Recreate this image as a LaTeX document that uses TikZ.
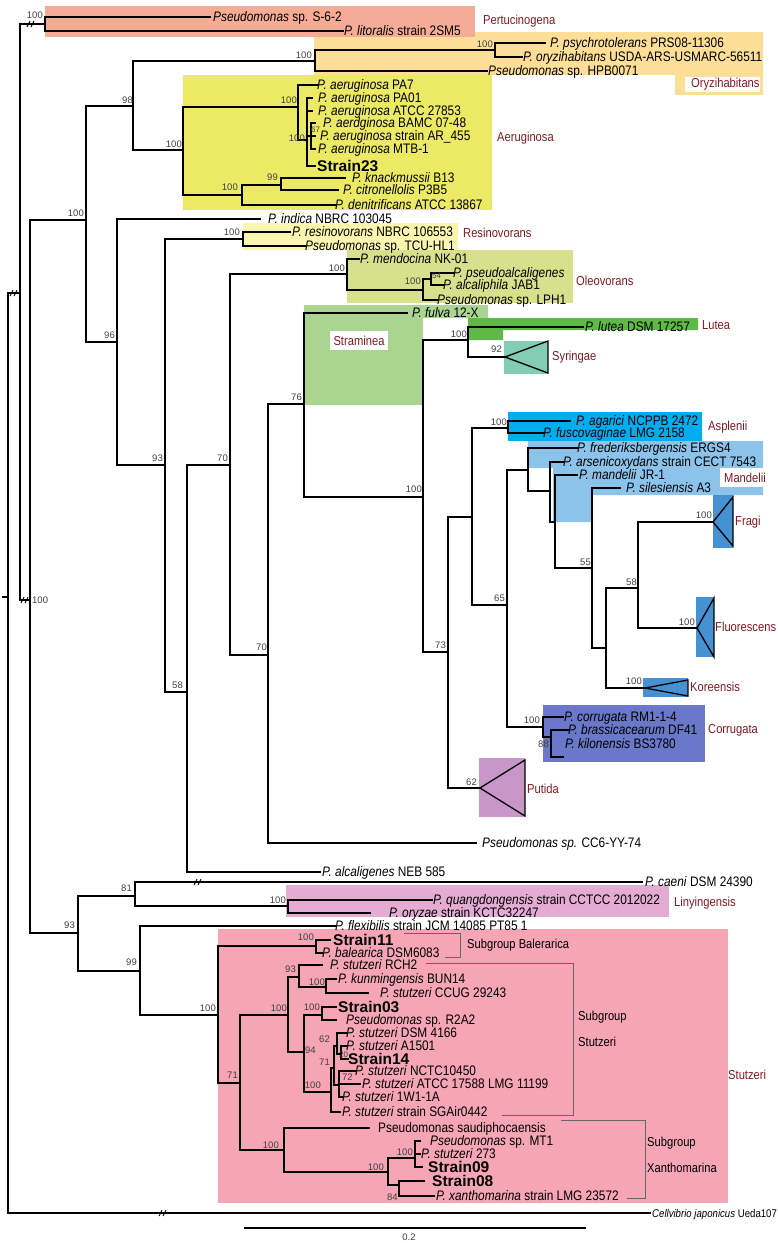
\documentclass[tikz,border=0pt]{standalone}
\usepackage{fontspec}
\newfontfamily\spfont{Liberation Sans}[FakeStretch=0.86]
\newfontfamily\bsfont{Liberation Sans}
\newfontfamily\stfont{Liberation Sans}
\definecolor{cpert}{RGB}{245,172,150}
\definecolor{cory}{RGB}{252,222,150}
\definecolor{caer}{RGB}{236,234,100}
\definecolor{cres}{RGB}{250,245,175}
\definecolor{cole}{RGB}{215,225,140}
\definecolor{cstra}{RGB}{170,213,145}
\definecolor{clut}{RGB}{95,185,70}
\definecolor{csyr}{RGB}{130,205,180}
\definecolor{casp}{RGB}{0,174,239}
\definecolor{cman}{RGB}{140,195,235}
\definecolor{cblue}{RGB}{70,145,210}
\definecolor{ccor}{RGB}{105,120,200}
\definecolor{cput}{RGB}{200,150,200}
\definecolor{clin}{RGB}{228,172,210}
\definecolor{cstz}{RGB}{245,165,180}
\definecolor{cred}{RGB}{130,25,35}
\tikzset{
  br/.style={line width=1.1pt, black, line cap=rect},
  tri/.style={line width=1.3pt, black, line join=miter},
  leaf/.style={anchor=base west, inner sep=0pt, font=\spfont\fontsize{13.8}{16}\selectfont},
  strain/.style={anchor=base west, inner sep=0pt, font=\stfont\bfseries\fontsize{15.5}{19}\selectfont},
  bs/.style={inner sep=0pt, font=\bsfont\fontsize{9.5}{10}\selectfont, text=black!75},
  grp/.style={anchor=west, inner sep=0pt, font=\spfont\fontsize{13}{15}\selectfont, text=cred},
  sublab/.style={anchor=west, inner sep=0pt, font=\spfont\fontsize{13}{15}\selectfont},
  brk/.style={line width=0.6pt, black!60},
}
\newcommand{\mylf}[5]{\coordinate (#1) at (#2,#3);\node[leaf] (#1t) at (#4,{#3+4}) {#5};}
\newcommand{\mystl}[5]{\coordinate (#1) at (#2,#3);\node[strain] (#1t) at (#4,{#3+5}) {#5};}
\newcommand{\mybs}[4]{\node[bs,anchor=east] (#1) at (#2,#3) {#4};}
\newcommand{\mybw}[4]{\node[bs,anchor=west] (#1) at (#2,#3) {#4};}
\newcommand{\mybrk}[2]{\draw[line width=0.9pt] ({#1-4},{#2+3})--({#1-1},{#2-3}) ({#1},{#2+3})--({#1+3},{#2-3});}
\newcommand{\myk}[2]{\foreach \cc in {#2} {\draw[br] (#1) |- (\cc);}}
\begin{document}
\begin{tikzpicture}[x=1pt,y=-1pt]
\useasboundingbox (0,0) rectangle (777,1243);
% ---------- clade boxes ----------
\fill[cory] (314,32) rectangle (763,75);
\fill[cory] (675,75) rectangle (763,95);
\fill[white] (685,77) rectangle (760,92);
\fill[cpert] (45,6) rectangle (475,37);
\fill[caer] (183,75) rectangle (492,210);
\fill[cres] (243,223) rectangle (458,250);
\fill[cole] (347,250) rectangle (573,303);
\fill[cstra] (304,305) -- (488,305) -- (488,318) -- (423,318) -- (423,405) -- (304,405) -- cycle;
\fill[white] (330,331) rectangle (388,350);
\fill[clut] (468,318) -- (698,318) -- (698,330) -- (503,330) -- (503,340) -- (468,340) -- cycle;
\fill[csyr] (504,341) rectangle (548,374);
\fill[casp] (508,412) rectangle (702,441);
\fill[cman] (528,441) -- (763,441) -- (763,495) -- (592,495) -- (592,522) -- (553,522) -- (553,468) -- (528,468) -- cycle;
\fill[white] (720,468) rectangle (763,487);
\fill[cblue] (713,495) rectangle (733,548);
\fill[cblue] (696,597) rectangle (714,657);
\fill[cblue] (643,678) rectangle (688,697);
\fill[ccor] (543,705) rectangle (705,762);
\fill[cput] (479,758) rectangle (525,817);
\fill[clin] (286,885) rectangle (669,917);
\fill[cstz] (218,929) rectangle (728,1203);
% ---------- internal nodes ----------
\coordinate (R) at (8,597); \coordinate (R0) at (3,597);
\coordinate (A) at (20,293);
\coordinate (PERT) at (45,24);
\coordinate (B) at (30,600);
\coordinate (C) at (86,220);
\coordinate (N98) at (133,106);
\coordinate (ORY) at (315,61);
\coordinate (ORYa) at (495,50);
\coordinate (AER) at (183,150);
\coordinate (AER1) at (298,107);
\coordinate (AER1b) at (307,140);
\coordinate (AER67) at (311,136);
\coordinate (AER2) at (242,195);
\coordinate (N99) at (281,185);
\coordinate (N96) at (117,342);
\coordinate (N93) at (165,465);
\coordinate (RES) at (243,239);
\coordinate (N58) at (187,692);
\coordinate (N70a) at (230,465);
\coordinate (OLE) at (347,274);
\coordinate (OLEb) at (423,290);
\coordinate (N54) at (431,279);
\coordinate (N70b) at (268,655);
\coordinate (N76) at (304,404);
\coordinate (N100s) at (423,497);
\coordinate (LS) at (468,340);
\coordinate (N73) at (448,652);
\coordinate (X) at (472,517);
\coordinate (ASP) at (508,428);
\coordinate (N65) at (507,605);
\coordinate (M1) at (528,470);
\coordinate (M2) at (550,491);
\coordinate (M3) at (555,522);
\coordinate (N55) at (592,568);
\coordinate (N58b) at (606,648);
\coordinate (F) at (638,588);
\coordinate (COR) at (543,727);
\coordinate (N88) at (551,737);
\coordinate (D) at (78,933);
\coordinate (N81) at (135,896);
\coordinate (LIN) at (288,906);
\coordinate (N99b) at (140,971);
\coordinate (STZ) at (218,1015);
\coordinate (BAL) at (316,946);
\coordinate (N71s) at (240,1083);
\coordinate (SS) at (288,1015);
\coordinate (N93s) at (299,977);
\coordinate (N100k) at (326,987);
\coordinate (N94) at (304,1052);
\coordinate (N100c) at (322,1015);
\coordinate (N100d) at (331,1092);
\coordinate (N71t) at (334,1068);
\coordinate (N62) at (337,1046);
\coordinate (N20) at (341,1054);
\coordinate (N72g) at (339,1085);
\coordinate (XAN) at (284,1150);
\coordinate (N100x) at (388,1172);
\coordinate (N100y) at (415,1158);
\coordinate (N84) at (399,1185);
\coordinate (syrA) at (505,357);
\coordinate (fraA) at (713,522);
\coordinate (fluA) at (697,628);
\coordinate (korA) at (645,688);
\coordinate (putA) at (480,788);
% ---------- leaves ----------
\mylf{s62}{210}{17}{213}{\textit{Pseudomonas} sp. S-6-2}
\mylf{lit}{343}{31}{344}{\textit{P. litoralis} strain 2SM5}
\mylf{psy}{545}{43}{550}{\textit{P. psychrotolerans} PRS08-11306}
\mylf{oryz}{522}{57}{523}{\textit{P. oryzihabitans} USDA-ARS-USMARC-56511}
\mylf{hpb}{487}{71}{488}{\textit{Pseudomonas} sp. HPB0071}
\mylf{pa7}{317}{85}{317}{\textit{P. aeruginosa} PA7}
\mylf{pa01}{312}{98}{318}{\textit{P. aeruginosa} PA01}
\mylf{atcc}{312}{111}{318}{\textit{P. aeruginosa} ATCC 27853}
\mylf{bamc}{315}{123}{323}{\textit{P. aerdginosa} BAMC 07-48}
\mylf{ar}{315}{136}{320}{\textit{P. aeruginosa} strain AR\_455}
\mylf{mtb}{315}{149}{318}{\textit{P. aeruginosa} MTB-1}
\mystl{s23}{315}{166}{317}{Strain23}
\mylf{knack}{345}{178}{352}{\textit{P. knackmussii} B13}
\mylf{citr}{338}{190}{343}{\textit{P. citronellolis} P3B5}
\mylf{denit}{335}{205}{335}{\textit{P. denitrificans} ATCC 13867}
\mylf{indica}{260}{219}{268}{\textit{P. indica} NBRC 103045}
\mylf{resin}{290}{232}{292}{\textit{P. resinovorans} NBRC 106553}
\mylf{tcu}{305}{246}{305}{\textit{Pseudomonas} sp. TCU-HL1}
\mylf{mendo}{359}{259}{360}{\textit{P. mendocina} NK-01}
\mylf{pseudoalc}{453}{273}{453}{\textit{P. pseudoalcaligenes}}
\mylf{alcaliph}{443}{285}{443}{\textit{P. alcaliphila} JAB1}
\mylf{lph1}{437}{300}{437}{\textit{Pseudomonas} sp. LPH1}
\mylf{fulva}{407}{313}{412}{\textit{P. fulva} 12-X}
\mylf{lutea}{583}{327}{585}{\textit{P. lutea} DSM 17257}
\mylf{agarici}{570}{421}{576}{\textit{P. agarici} NCPPB 2472}
\mylf{fusco}{543}{433}{543}{\textit{P. fuscovaginae} LMG 2158}
\mylf{fred}{577}{448}{577}{\textit{P. frederiksbergensis} ERGS4}
\mylf{arsen}{563}{462}{563}{\textit{P. arsenicoxydans} strain CECT 7543}
\mylf{mand}{577}{475}{579}{\textit{P. mandelii} JR-1}
\mylf{siles}{620}{488}{626}{\textit{P. silesiensis} A3}
\mylf{corr}{563}{717}{564}{\textit{P. corrugata} RM1-1-4}
\mylf{brass}{568}{730}{568}{\textit{P. brassicacearum} DF41}
\coordinate (kilon) at (563,757);
\node[leaf] (kilont) at (565,748) {\textit{P. kilonensis} BS3780};
\mylf{cc6}{476}{843}{482}{\textit{Pseudomonas sp.} CC6-YY-74}
\mylf{alcal}{320}{872}{322}{\textit{P. alcaligenes} NEB 585}
\mylf{caeni}{642}{882}{645}{\textit{P. caeni} DSM 24390}
\mylf{quang}{432}{900}{433}{\textit{P. quangdongensis} strain CCTCC 2012022}
\mylf{oryzae}{370}{913}{389}{\textit{P. oryzae} strain KCTC32247}
\mylf{flex}{335}{926}{335}{\textit{P. flexibilis} strain JCM 14085 PT85 1}
\mystl{s11}{330}{940}{333}{Strain11}
\mylf{bal}{322}{953}{322}{\textit{P. balearica} DSM6083}
\mylf{rch2}{322}{965}{330}{\textit{P. stutzeri} RCH2}
\mylf{kun}{336}{979}{338}{\textit{P. kunmingensis} BUN14}
\mylf{ccug}{368}{993}{380}{\textit{P. stutzeri} CCUG 29243}
\mystl{s03}{336}{1007}{338}{Strain03}
\mylf{r2a2}{336}{1020}{346}{\textit{Pseudomonas} sp. R2A2}
\mylf{dsm}{346}{1033}{346}{\textit{P. stutzeri} DSM 4166}
\mylf{a1501}{346}{1046}{346}{\textit{P. stutzeri} A1501}
\mystl{s14}{348}{1059}{348}{Strain14}
\mylf{nctc}{355}{1071}{355}{\textit{P. stutzeri} NCTC10450}
\mylf{atcc2}{360}{1084}{362}{\textit{P. stutzeri} ATCC 17588 LMG 11199}
\mylf{w1}{342}{1097}{342}{\textit{P. stutzeri} 1W1-1A}
\mylf{sga}{340}{1112}{342}{\textit{P. stutzeri} strain SGAir0442}
\mylf{saud}{369}{1128}{378}{Pseudomonas saudiphocaensis}
\mylf{mt1}{420}{1141}{430}{\textit{Pseudomonas} sp. MT1}
\mylf{s273}{420}{1154}{421}{\textit{P. stutzeri} 273}
\mystl{s09}{422}{1167}{428}{Strain09}
\mystl{s08}{424}{1181}{432}{Strain08}
\mylf{xan}{434}{1196}{436}{\textit{P. xanthomarina} strain LMG 23572}
\coordinate (cj) at (650,1213);
\node[leaf,font=\spfont\fontsize{11.2}{13}\selectfont] (cjt) at (652,1217) {\textit{Cellvibrio japonicus} Ueda107};
% ---------- branches ----------
\draw[br] (R0) -- (R);
\myk{R}{A,cj}
\myk{A}{PERT,B}
\myk{PERT}{s62,lit}
\myk{B}{C,D}
\myk{C}{N98,N96}
\myk{N98}{ORY,AER}
\myk{ORY}{ORYa,hpb}
\myk{ORYa}{psy,oryz}
\myk{AER}{AER1,AER2}
\myk{AER1}{pa7,AER1b}
\myk{AER1b}{pa01,atcc,AER67,s23}
\myk{AER67}{bamc,ar,mtb}
\myk{AER2}{N99,denit}
\myk{N99}{knack,citr}
\myk{N96}{indica,N93}
\myk{N93}{RES,N58}
\myk{RES}{resin,tcu}
\myk{N58}{N70a,alcal}
\myk{N70a}{OLE,N70b}
\myk{OLE}{mendo,OLEb}
\myk{OLEb}{N54,lph1}
\myk{N54}{pseudoalc,alcaliph}
\myk{N70b}{N76,cc6}
\myk{N76}{fulva,N100s}
\myk{N100s}{LS,N73}
\myk{LS}{lutea,syrA}
\myk{N73}{X,putA}
\myk{X}{ASP,N65}
\myk{ASP}{agarici,fusco}
\myk{N65}{M1,COR}
\myk{M1}{fred,M2}
\myk{M2}{arsen,M3}
\myk{M3}{mand,N55}
\myk{N55}{siles,N58b}
\myk{N58b}{F,korA}
\myk{F}{fraA,fluA}
\myk{COR}{corr,N88}
\myk{N88}{brass,kilon}
\myk{D}{N81,N99b}
\myk{N81}{caeni,LIN}
\myk{LIN}{quang,oryzae}
\myk{N99b}{flex,STZ}
\myk{STZ}{BAL,N71s}
\myk{BAL}{s11,bal}
\myk{N71s}{SS,XAN}
\myk{SS}{N93s,N94}
\myk{N93s}{rch2,N100k}
\myk{N100k}{kun,ccug}
\myk{N94}{N100c,N100d}
\myk{N100c}{s03,r2a2}
\myk{N100d}{N71t,sga}
\myk{N71t}{N62,N72g}
\myk{N62}{dsm,N20}
\myk{N20}{a1501,s14}
\myk{N72g}{nctc,atcc2,w1}
\myk{XAN}{saud,N100x}
\myk{N100x}{N100y,N84}
\myk{N100y}{mt1,s273,s09}
\myk{N84}{s08,xan}
% break marks
\mybrk{14}{293}
\mybrk{31}{24}
\mybrk{25}{600}
\mybrk{198}{882}
\mybrk{163}{1213}
% collapsed clades
\draw[tri] (syrA) -- (548,341) -- (548,373) -- cycle;
\draw[tri] (fraA) -- (733,497) -- (733,546) -- cycle;
\draw[tri] (fluA) -- (714,598) -- (714,657) -- cycle;
\draw[tri] (korA) -- (688,680) -- (688,696) -- cycle;
\draw[tri] (putA) -- (525,760) -- (525,816) -- cycle;
% ---------- support values ----------
\mybs{b1}{43}{15}{100}
\mybs{b2}{133}{100}{98}
\mybs{b3}{312}{55}{100}
\mybs{b4}{493}{44}{100}
\mybs{b5}{182}{144}{100}
\mybs{b6}{297}{100}{100}
\mybs{b7}{305}{138}{100}
\node[bs,anchor=west,font=\bsfont\fontsize{8}{9}\selectfont] (b8) at (311,130) {67};
\mybs{b9}{238}{187}{100}
\mybs{b10}{278}{177}{99}
\mybs{b11}{84}{213}{100}
\mybs{b12}{115}{335}{96}
\mybs{b13}{163}{458}{93}
\mybs{b14}{240}{232}{100}
\mybs{b15}{183}{685}{58}
\mybs{b16}{228}{458}{70}
\mybs{b17}{345}{268}{100}
\mybs{b18}{421}{281}{100}
\node[bs,anchor=west,font=\bsfont\fontsize{8}{9}\selectfont] (b19) at (432,276) {54};
\mybs{b20}{267}{647}{70}
\mybs{b21}{302}{397}{76}
\mybs{b22}{422}{489}{100}
\mybs{b23}{467}{334}{100}
\mybs{b24}{502}{349}{92}
\mybs{b25}{446}{645}{73}
\mybs{b26}{507}{422}{100}
\mybs{b27}{505}{598}{65}
\mybs{b28}{591}{562}{55}
\mybs{b29}{637}{582}{58}
\mybs{b30}{712}{515}{100}
\mybs{b31}{695}{622}{100}
\mybs{b32}{642}{681}{100}
\mybs{b33}{540}{720}{100}
\mybs{b34}{549}{744}{88}
\mybs{b35}{477}{782}{62}
\mybw{b36}{32}{600}{100}
\mybs{b37}{75}{925}{93}
\mybs{b38}{132}{888}{81}
\mybs{b39}{286}{900}{100}
\mybs{b40}{137}{962}{99}
\mybs{b41}{216}{1008}{100}
\mybs{b42}{314}{937}{100}
\mybs{b43}{238}{1075}{71}
\mybs{b44}{287}{1008}{100}
\mybs{b45}{296}{969}{93}
\mybs{b46}{325}{982}{100}
\mybw{b47}{305}{1050}{94}
\mybs{b48}{320}{1007}{100}
\mybs{b49}{330}{1039}{62}
\mybs{b50}{330}{1062}{71}
\node[bs,anchor=west,font=\bsfont\fontsize{8}{9}\selectfont] (b51) at (339,1055) {20};
\mybs{b52}{321}{1085}{100}
\mybw{b53}{342}{1077}{72}
\mybs{b54}{279}{1145}{100}
\mybs{b55}{384}{1167}{100}
\mybs{b56}{413}{1152}{100}
\mybw{b57}{387}{1197}{84}
% ---------- clade labels ----------
\node[grp] (pertL) at (483,21) {Pertucinogena};
\node[grp] (oryL) at (691,84) {Oryzihabitans};
\node[grp] (aerL) at (497,138) {Aeruginosa};
\node[grp] (resL) at (463,233) {Resinovorans};
\node[grp] (oleL) at (576,281) {Oleovorans};
\node[grp,anchor=center] (straL) at (359,341) {Straminea};
\node[grp] (lutL) at (702,325) {Lutea};
\node[grp] (syrL) at (552,357) {Syringae};
\node[grp] (aspL) at (708,427) {Asplenii};
\node[grp] (manL) at (724,478) {Mandelii};
\node[grp] (fraL) at (735,522) {Fragi};
\node[grp] (fluL) at (715,627) {Fluorescens};
\node[grp] (korL) at (690,687) {Koreensis};
\node[grp] (corL) at (708,730) {Corrugata};
\node[grp] (putL) at (527,789) {Putida};
\node[grp] (linL) at (674,903) {Linyingensis};
\node[grp] (stzL) at (728,1075) {Stutzeri};
\node[sublab] (sbB) at (467,945) {Subgroup Balerarica};
\node[sublab] (sbS1) at (578,1017) {Subgroup};
\node[sublab] (sbS2) at (578,1042) {Stutzeri};
\node[sublab] (sbX1) at (647,1143) {Subgroup};
\node[sublab] (sbX2) at (647,1168) {Xanthomarina};
% subgroup brackets
\coordinate (bb1) at (404,933); \coordinate (bb2) at (460,933);
\coordinate (bb3) at (460,957); \coordinate (bb4) at (445,957);
\draw[brk] (bb1) -- (bb2) -- (bb3) -- (bb4);
\coordinate (bs1) at (426,963); \coordinate (bs2) at (573,963);
\coordinate (bs3) at (573,1115); \coordinate (bs4) at (502,1115);
\draw[brk] (bs1) -- (bs2) -- (bs3) -- (bs4);
\coordinate (bx1) at (561,1120); \coordinate (bx2) at (645,1120);
\coordinate (bx3) at (645,1198); \coordinate (bx4) at (627,1198);
\draw[brk] (bx1) -- (bx2) -- (bx3) -- (bx4);
% scale bar
\coordinate (sc1) at (245,1228); \coordinate (sc2) at (585,1228);
\draw[br] (sc1) -- (sc2);
\node[bs] (scL) at (409,1237) {0.2};
\end{tikzpicture}
\end{document}
